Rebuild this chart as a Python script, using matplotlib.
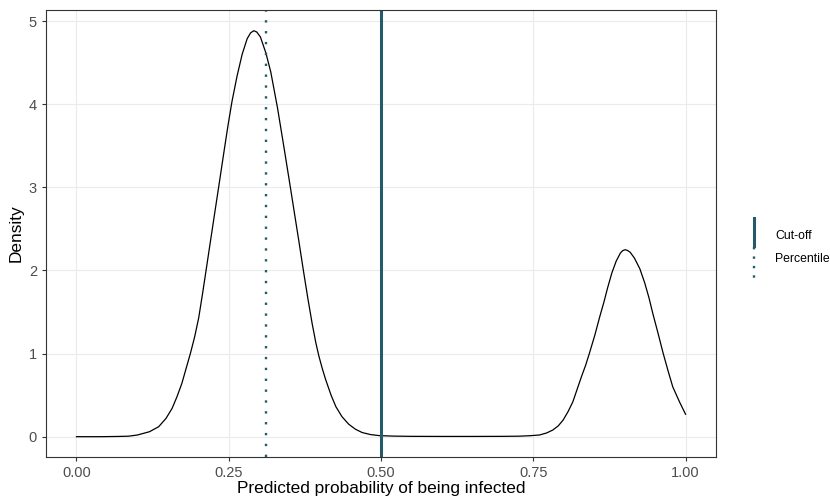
import matplotlib.pyplot as plt
from matplotlib.lines import Line2D

plt.rcParams["font.family"] = ["Liberation Sans", "DejaVu Sans"]

# density curve
prob = [0.0, 0.04, 0.07, 0.0855, 0.10, 0.12, 0.135, 0.147, 0.157, 0.165, 0.173, 0.18, 0.187,
        0.194, 0.2007, 0.207, 0.214, 0.2253, 0.2336, 0.2418, 0.2489, 0.2555, 0.2637, 0.272,
        0.2803, 0.286, 0.2911, 0.296, 0.302, 0.3109, 0.319, 0.33, 0.3405, 0.351, 0.3596,
        0.365, 0.373, 0.38, 0.387, 0.393, 0.398, 0.404, 0.409, 0.418, 0.426, 0.436, 0.447,
        0.458, 0.469, 0.483, 0.497, 0.52, 0.55, 0.6, 0.65, 0.7, 0.727, 0.745, 0.76, 0.772,
        0.782, 0.791, 0.799, 0.807, 0.815, 0.822, 0.829, 0.836, 0.842, 0.851, 0.859, 0.866,
        0.872, 0.879, 0.886, 0.893, 0.897, 0.901, 0.905, 0.909, 0.916, 0.925, 0.933, 0.94,
        0.946, 0.955, 0.963, 0.971, 0.979, 0.99, 1.0]
density = [0.0, 0.0, 0.003, 0.006, 0.02, 0.06, 0.12, 0.22, 0.34, 0.48, 0.64, 0.82, 1.0,
           1.2, 1.43, 1.72, 2.06, 2.61, 3.01, 3.41, 3.75, 4.04, 4.34, 4.6, 4.79, 4.86, 4.885,
           4.87, 4.81, 4.62, 4.39, 3.96, 3.49, 3.01, 2.61, 2.36, 1.98, 1.66, 1.36, 1.13, 0.97,
           0.81, 0.69, 0.5, 0.36, 0.24, 0.15, 0.09, 0.05, 0.025, 0.013, 0.007, 0.004, 0.003,
           0.003, 0.004, 0.006, 0.012, 0.02, 0.045, 0.08, 0.13, 0.2, 0.3, 0.42, 0.57, 0.72,
           0.86, 1.0, 1.22, 1.44, 1.62, 1.79, 1.97, 2.11, 2.21, 2.24, 2.25, 2.24, 2.22, 2.15,
           2.02, 1.85, 1.67, 1.49, 1.24, 1.01, 0.8, 0.6, 0.42, 0.27]

cutoff = 0.5
percentile = 0.311
line_col = "#255a6a"
dotted = (0, (1, 3.6))

fig = plt.figure(figsize=(8.3, 5.04), dpi=100)
ax = fig.add_axes([46 / 830, 1 - 457 / 504, 670 / 830, 447 / 504])

ax.plot(prob, density, color="black", lw=0.9, solid_joinstyle="round")
ax.axvline(cutoff, color=line_col, lw=2.2)
ax.axvline(percentile, color=line_col, lw=1.7, linestyle=dotted)

ax.set_xlim(-0.05, 1.05)
ax.set_ylim(-0.2445, 5.1345)
ax.set_xticks([0, 0.25, 0.5, 0.75, 1.0])
ax.set_xticklabels(["0.00", "0.25", "0.50", "0.75", "1.00"])
ax.set_yticks([0, 1, 2, 3, 4, 5])
ax.grid(True, color="#ebebeb", lw=0.8)
ax.set_axisbelow(True)
for s in ax.spines.values():
    s.set_color("#333333")
    s.set_linewidth(0.8)
ax.tick_params(colors="#333333", labelcolor="#4d4d4d", labelsize=10.5, length=3, width=0.8)
ax.set_xlabel("Predicted probability of being infected", fontsize=12.4, labelpad=1)
ax.set_ylabel("Density", fontsize=12.4, labelpad=4)

# legend drawn by hand at the right edge
fig.add_artist(Line2D([754 / 830] * 2, [1 - 218 / 504, 1 - 246 / 504], color=line_col, lw=2.2))
fig.add_artist(Line2D([754 / 830] * 2, [1 - 247 / 504, 1 - 279 / 504], color=line_col, lw=1.7,
                      linestyle=(0, (1, 3.0))))
fig.text(775 / 830, 1 - 236 / 504, "Cut-off", fontsize=8.8, va="center")
fig.text(775 / 830, 1 - 259 / 504, "Percentile", fontsize=8.8, va="center")

fig.savefig("out.png", dpi=100)
